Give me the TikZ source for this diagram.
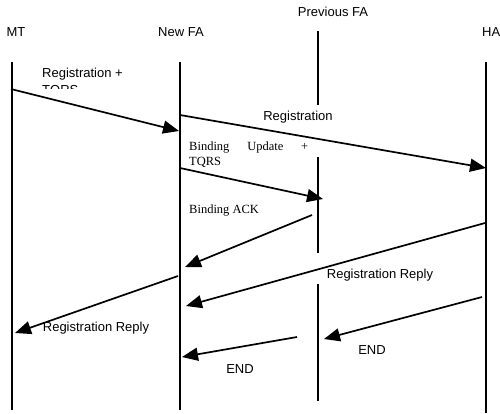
\documentclass[tikz,border=0pt]{standalone}
\usepackage{fontspec}
\setmainfont{Liberation Sans}
\newfontfamily\bodyserif{Liberation Serif}
\usetikzlibrary{arrows.meta}

\tikzset{
  life/.style={line width=1.8pt},
  msg/.style={line width=1.7pt, -{Triangle[length=16pt,width=13pt]}},
  lbl/.style={font=\fontsize{13}{17}\selectfont, inner sep=0pt},
  slbl/.style={font=\bodyserif\fontsize{12.5}{15}\selectfont, inner sep=0pt},
}

\begin{document}
\begin{tikzpicture}[x=1pt,y=-1pt]
\useasboundingbox (0,0) rectangle (500,413);

% entities
\node[lbl] (MT) at (16,32) {MT};
\node[lbl] (NFA) at (181,32) {New FA};
\node[lbl] (PFA) at (333,12) {Previous FA};
\node[lbl,anchor=west] (HA) at (482,32) {HA};

% life lines
\coordinate (MTt) at (12,62);
\coordinate (MTb) at (12,410);
\coordinate (NFAt) at (180,62);
\coordinate (NFAb) at (180,410);
\coordinate (PFAa) at (318,31);
\coordinate (PFAb) at (318,105);
\coordinate (PFAc) at (318,157);
\coordinate (PFAd) at (318,253);
\coordinate (PFAe) at (318,284);
\coordinate (PFAf) at (318,401);
\coordinate (HAt) at (486,62);
\coordinate (HAb) at (486,413);

\path [life]
(MTt) edge (MTb)
(NFAt) edge (NFAb)
(PFAa) edge (PFAb)
(PFAc) edge (PFAd)
(PFAe) edge (PFAf)
(HAt) edge (HAb);

% message ends
\coordinate (reg1s) at (11,89);
\coordinate (reg1e) at (179,131);
\coordinate (reg2s) at (180,115);
\coordinate (reg2e) at (486,168);
\coordinate (bus) at (180,168);
\coordinate (bue) at (323,199);
\coordinate (acks) at (312,215);
\coordinate (acke) at (185,267);
\coordinate (rep1s) at (485,223);
\coordinate (rep1e) at (186,306);
\coordinate (rep2s) at (178,276);
\coordinate (rep2e) at (15,333);
\coordinate (end1s) at (482,297);
\coordinate (end1e) at (324,339);
\coordinate (end2s) at (297,337);
\coordinate (end2e) at (182,357);

\path [msg]
(reg1s) edge (reg1e)
(reg2s) edge (reg2e)
(bus) edge (bue)
(acks) edge (acke)
(rep1s) edge (rep1e)
(rep2s) edge (rep2e)
(end1s) edge (end1e)
(end2s) edge (end2e);

% labels
\begin{scope}
\clip (30,60) rectangle (170,88.5);
\node[lbl,anchor=north west,align=left] (Lreg1) at (42,68) {Registration +\\TQRS};
\end{scope}
\node[lbl] (Lreg2) at (298,117) {Registration};
\node[slbl,anchor=north west,text width=119pt,align=left] (Lbu) at (189,142)
  {Binding\hfill Update\hfill +\\TQRS};
\node[slbl,anchor=north west] (Lack) at (189,205) {Binding ACK};
\node[lbl] (Lrep1) at (380,275) {Registration Reply};
\node[lbl] (Lrep2) at (96,328) {Registration Reply};
\node[lbl] (Lend1) at (372,350) {END};
\node[lbl] (Lend2) at (240,369) {END};
\end{tikzpicture}
\end{document}
